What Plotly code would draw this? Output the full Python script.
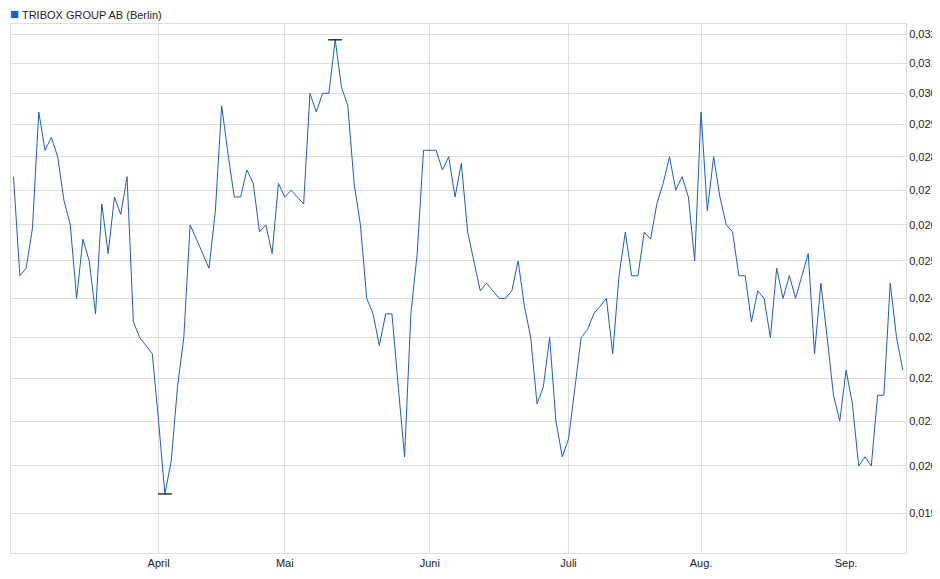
import plotly.graph_objects as go
import pandas as pd

values = [0.0274,0.0246,0.0248,0.0259,0.0294,0.0282,0.0286,0.0280,0.0267,0.0260,
0.0240,0.0256,0.0250,0.0236,0.0266,0.0252,0.0268,0.0263,0.0274,0.0234,
0.0230,0.0228,0.0226,0.0210,0.0194,0.0201,0.0218,0.0230,0.0260,0.0256,
0.0252,0.0248,0.0264,0.0296,0.0281,0.0268,0.0268,0.0276,0.0272,0.0258,
0.0260,0.0252,0.0272,0.0268,0.0270,0.0268,0.0266,0.0300,0.0294,0.0300,
0.0300,0.0318,0.0302,0.0296,0.0272,0.0260,0.0240,0.0236,0.0228,0.0236,
0.0236,0.0218,0.0202,0.0236,0.0252,0.0282,0.0282,0.0282,0.0276,0.0280,
0.0268,0.0278,0.0258,0.0250,0.0242,0.0244,0.0242,0.0240,0.0240,0.0242,
0.0250,0.0238,0.0230,0.0214,0.0218,0.0230,0.0210,0.0202,0.0206,0.0218,
0.0230,0.0232,0.0236,0.0238,0.0240,0.0226,0.0246,0.0258,0.0246,0.0246,
0.0258,0.0256,0.0266,0.0272,0.0280,0.0270,0.0274,0.0268,0.0250,0.0294,
0.0264,0.0280,0.0268,0.0260,0.0258,0.0246,0.0246,0.0234,0.0242,0.0240,
0.0230,0.0248,0.0240,0.0246,0.0240,0.0246,0.0252,0.0226,0.0244,0.0230,
0.0216,0.0210,0.0222,0.0214,0.0200,0.0202,0.0200,0.0216,0.0216,0.0244,
0.0230,0.0222]
dates = pd.bdate_range("2023-03-01", periods=len(values))
month_starts = ["2023-04-01","2023-05-01","2023-06-01","2023-07-01","2023-08-01","2023-09-01"]
tick_labels = ["April","Mai","Juni","Juli","Aug.","Sep."]
y_ticks = [0.019,0.020,0.021,0.022,0.023,0.024,0.025,0.026,0.027,0.028,0.029,0.030,0.031,0.032]

idx = list(range(len(values)))
tick_pos = [int((dates >= pd.Timestamp(m)).argmax()) for m in month_starts]
imax = max(idx, key=lambda i: values[i])
imin = min(idx, key=lambda i: values[i])

fig = go.Figure()
fig.add_trace(go.Scatter(x=idx, y=values, mode="lines", customdata=[d.strftime("%d.%m.%Y") for d in dates],
                         line=dict(color="#1a5dc8", width=1), hovertemplate="%{customdata}: %{y}<extra></extra>"))
fig.add_trace(go.Scatter(x=[imax, imin], y=[values[imax], values[imin]],
                         mode="markers", marker=dict(symbol="line-ew", size=10,
                         line=dict(color="black", width=1.2)), hoverinfo="skip"))
fig.add_annotation(x=imax, y=values[imax], yref="y", text="0,03", showarrow=False,
                   yshift=9, font=dict(color="#a0a0a0", size=11))
fig.add_annotation(x=imin, y=values[imin], yref="y", text="0,02", showarrow=False,
                   yshift=-10, font=dict(color="#a0a0a0", size=11))
fig.add_annotation(xref="paper", yref="paper", x=0, y=1, xanchor="left", yanchor="bottom",
                   yshift=0, xshift=-3, showarrow=False,
                   text="<span style='color:#1a5dc8;font-size:15px'>■</span> TRIBOX GROUP AB (Berlin)",
                   font=dict(size=11, color="#222"))
fig.update_layout(
    width=940, height=579, showlegend=False,
    margin=dict(l=3, r=42, t=16, b=34, autoexpand=False),
    plot_bgcolor="white", paper_bgcolor="white",
    separators=",.",
    font=dict(family="Liberation Sans, Arial, sans-serif", size=11, color="#222"),
    xaxis=dict(tickvals=tick_pos, ticktext=tick_labels, showgrid=True, gridcolor="#dddddd",
               showline=True, linecolor="#dddddd", mirror=True, ticks="", automargin=False,
               zeroline=False, range=[-0.4, len(values) - 0.5]),
    yaxis=dict(type="log", side="right", tickvals=y_ticks, tickformat=".3f", showgrid=True,
               gridcolor="#dddddd", showline=True, linecolor="#dddddd", mirror=True,
               range=[-1.7401, -1.4901], ticks="", automargin=False),
)
fig.write_html("out.html")
